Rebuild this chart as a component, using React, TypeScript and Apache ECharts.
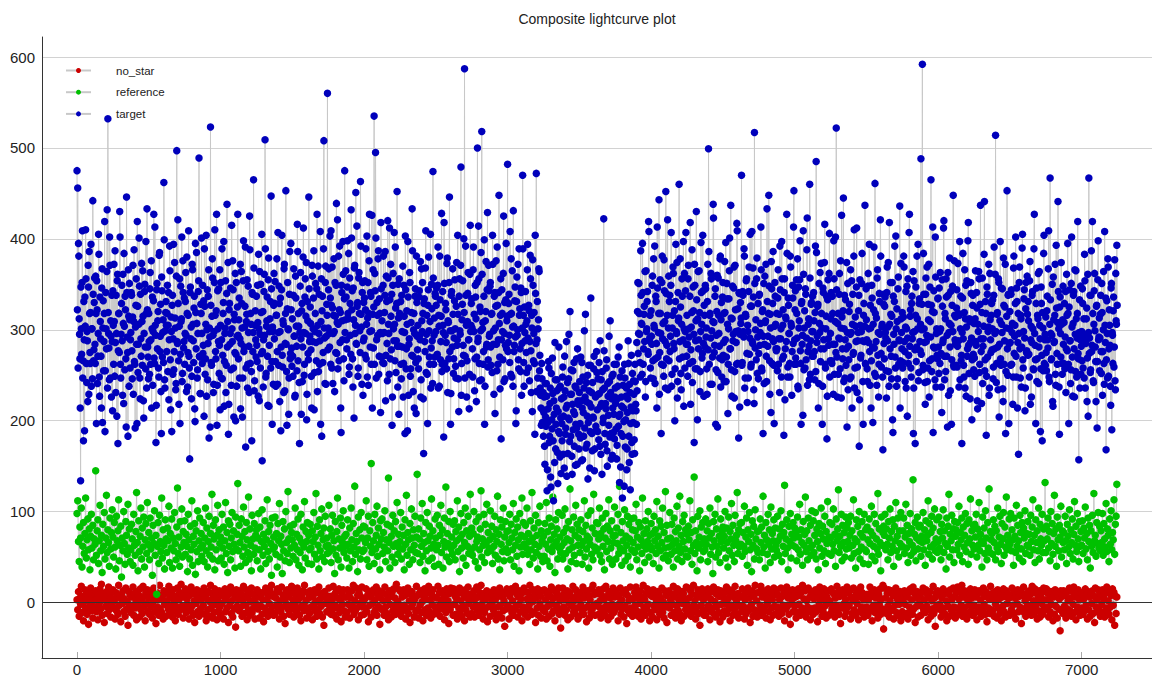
import React, { useEffect, useRef } from "react";
import * as echarts from "echarts";

const STEP = 5;
const xTickValues = [0, 1000, 2000, 3000, 4000, 5000, 6000, 7000];
const yTickValues = [0, 100, 200, 300, 400, 500, 600];
const gridValues = [100, 200, 300, 400, 500, 600];
const seriesNames = ["no_star", "reference", "target"];

const noStar: number[] = [
3,-8,12,-15,5,-2,18,-11,7,-20,1,14,-6,9,-13,4,-24,10,-3,16,-9,6,-17,2,11,
-5,13,-10,4,-19,8,-1,15,-7,20,-14,3,10,-22,6,-4,12,-12,1,17,-8,9,-16,5,-2,
14,-6,2,-18,11,-9,7,-13,19,-3,5,-21,9,-1,13,-10,4,-15,16,-7,1,-25,12,-4,8,
-11,6,-3,17,-14,10,-6,3,-19,12,-2,8,-16,15,-8,2,-12,18,-5,7,-20,11,-1,14,-9,
5,-13,9,-4,13,-17,1,16,-10,6,-23,11,-5,3,-14,19,-7,8,-11,4,-18,13,-2,10,-15,
2,12,-7,18,-12,5,-3,10,-16,14,-9,1,-20,7,-5,16,-13,3,11,-8,20,-4,6,-17,9,
-6,15,-11,4,-2,13,-18,8,-9,17,-4,11,-14,2,-22,9,-1,14,-10,6,-15,12,-7,3,-12,
10,-3,16,-13,7,-20,4,-8,12,-15,1,19,-6,10,-17,5,-11,15,-2,8,-19,3,-9,13,-5,
-14,8,-1,11,-18,6,15,-10,3,-6,13,-22,9,-3,17,-12,2,-16,11,-7,5,-27,14,-4,7,
4,-9,13,-5,9,-15,2,18,-12,7,-3,14,-19,5,-8,12,-14,1,16,-11,9,-6,3,-18,10,
-2,14,-7,6,-17,11,-4,9,-13,3,-21,12,-6,16,-9,4,-15,8,-1,13,-10,19,-5,7,-14,
9,-12,5,-3,15,-8,12,-18,2,-10,17,-5,8,-15,3,-23,11,-2,14,-7,6,-13,10,-4,18,
-7,3,-16,12,-1,8,-11,16,-6,4,-14,10,-20,7,-3,13,-9,19,-5,2,-17,11,-8,5,-12,
13,-5,9,-19,6,-2,14,-9,1,-15,11,-7,17,-12,4,-4,10,-16,7,-25,12,-1,8,-10,3,
-10,16,-4,7,-13,2,-8,18,-14,9,-3,12,-18,5,-6,15,-11,3,-21,10,-2,14,-9,6,-16,
6,-11,14,-2,10,-17,5,-7,13,-4,19,-13,2,-9,16,-6,8,-19,11,-1,7,-14,17,-5,1,
-13,4,-6,15,-10,8,-21,12,-3,6,-16,10,-1,14,-11,3,-8,17,-14,9,-4,13,-24,5,-7,
11,-8,2,-14,17,-5,9,-12,4,-19,13,-2,7,-16,11,-9,15,-3,5,-13,20,-7,1,-11,14,
-4,12,-15,6,-9,14,-3,8,-18,10,-6,16,-12,2,-22,9,-5,12,-1,7,-16,4,-10,18,-8,
8,-17,10,-3,13,-11,1,-20,7,15,-8,4,-14,11,-6,18,-10,3,-17,9,-2,14,-13,6,-5,
-9,5,-12,18,-4,11,-15,3,-7,13,-1,9,-19,6,-11,15,-5,2,-23,10,-8,16,-3,12,-14,
15,-2,7,-13,4,-18,10,-6,16,-10,2,-15,12,-4,8,-20,14,-8,5,-12,17,-1,9,-16,3,
-12,9,-5,13,-16,4,-3,17,-9,6,-14,11,-7,19,-2,5,-18,10,-11,3,-6,13,-21,8,-4,
5,-15,11,-1,9,-8,14,-12,3,-19,10,-5,7,-13,16,-3,11,-17,6,-9,2,-26,12,-7,15,
-3,10,-18,7,-6,15,-11,2,-14,12,-8,18,-4,9,-16,6,-2,13,-10,4,-20,11,-5,16,-13,
12,-7,4,-16,11,-3,19,-9,6,-13,1,14,-11,8,-22,5,-6,15,-14,10,-1,7,-17,13,-8,
-6,14,-10,3,-18,9,-4,12,-15,7,-2,17,-12,4,-9,13,-20,6,-3,11,-7,16,-13,2,-28,
7,-11,16,-5,10,-14,3,-8,13,-19,9,-1,11,-16,6,-4,18,-10,2,-12,14,-6,8,-18,4,
-15,6,-2,12,-9,17,-13,5,-6,10,-21,13,-4,8,-17,3,-11,15,-7,19,-3,9,-14,11,-1,
10,-4,14,-12,2,-17,8,-6,15,-10,4,-14,18,-3,7,-19,12,-8,5,-15,11,-2,16,-11,6,
-8,13,-5,9,-20,6,-1,16,-13,3,-7,12,-16,10,-4,14,-23,8,-9,2,-12,17,-6,4,-15,
4,-12,11,-3,17,-9,5,-15,8,-1,13,-18,6,-10,19,-5,3,-14,10,-7,15,-2,9,-20,12,
-11,7,-16,14,-4,10,-8,3,-19,12,-2,9,-13,5,-6,16,-11,1,-17,13,-5,8,-22,11,-3,
13,-6,3,-14,9,-2,18,-11,6,-17,11,-4,15,-9,2,-13,7,-20,12,-1,10,-15,4,-8,17,
-2,16,-12,5,-8,13,-15,9,-4,19,-10,2,-18,8,-5,14,-12,6,-25,10,-3,15,-9,3,-14,
9,-14,6,-7,15,-3,11,-19,4,-10,12,-6,17,-13,1,-16,9,-4,14,-11,7,-21,13,-2,8,
-16,5,-9,11,-1,17,-12,4,-7,14,-20,8,-3,12,-14,6,-8,18,-5,2,-13,10,-17,7,-4,
6,-10,15,-4,8,-18,3,-13,12,-6,16,-9,5,-22,10,-2,13,-15,7,-8,19,-11,2,-16,11,
-9,12,-3,18,-14,6,-11,10,-5,13,-17,4,-1,15,-10,8,-19,11,-6,3,-14,16,-4,9,-12,
14,-5,8,-15,3,-9,16,-12,7,-3,11,-20,9,-7,17,-4,5,-13,12,-24,8,-1,14,-10,5,
-4,10,-17,7,-11,15,-2,8,-14,11,-6,19,-12,4,-8,13,-16,2,-5,16,-10,6,-19,12,-7,
8,-13,4,-6,14,-10,12,-21,5,-2,17,-8,10,-15,3,-11,15,-4,9,-17,6,-1,13,-14,2,
-12,15,-7,11,-3,9,-16,5,-9,18,-4,12,-13,7,-23,10,-6,14,-2,8,-15,3,-10,17,-5,
11,-3,13,-18,6,-12,2,16,-8,4,-14,10,-1,13,-19,6,-10,17,-5,11,-12,3,-16,8,-7,
-5,9,-14,3,-10,17,-6,11,-20,7,-3,14,-11,5,-8,12,-17,9,-2,15,-13,4,-7,19,-29,
16,-8,5,-12,10,-4,14,-16,2,-9,13,-6,8,-18,11,-3,16,-11,4,-14,7,-2,12,-20,9,
-10,4,-15,13,-2,9,-12,6,-18,11,-5,15,-9,3,-13,17,-7,10,-22,5,-4,12,-16,8,-1,
7,-14,11,-5,16,-9,3,-11,14,-4,9,-19,6,-8,12,-15,2,-7,18,-12,5,-26,10,-3,13,
-7,12,-2,8,-16,5,-10,15,-6,10,-13,2,-20,12,-4,9,-15,14,-8,3,-11,16,-5,7,-17,
12,-6,17,-13,4,-8,11,-3,19,-15,6,-10,13,-5,8,-18,3,-12,10,-2,15,-9,5,-14,11,
-3,14,-11,6,-19,10,-5,13,-9,3,-15,11,-7,16,-2,7,-13,12,-21,9,-6,4,-12,18,-8,
10,-9,3,-15,12,-2,8,-17,14,-6,4,-12,11,-20,6,-4,15,-10,7,-16,13,-1,9,-13,5,
-14,6,-8,16,-3,11,-12,5,-18,9,-1,14,-10,7,-5,12,-23,8,-7,17,-11,2,-15,10,-4,
5,-11,13,-4,9,-14,18,-7,2,-12,15,-3,10,-18,4,-9,13,-16,6,-1,11,-13,16,-6,3,
-8,15,-5,10,-16,3,-10,12,-2,8,-20,6,-13,14,-4,11,-17,9,-7,4,-31,13,-9,7,-12,
13,-4,8,-17,11,-7,2,-13,16,-9,5,-15,12,-2,17,-11,6,-19,9,-5,14,-10,3,-14,10,
-6,11,-13,4,-9,15,-3,9,-18,12,-8,6,-15,10,-1,13,-12,7,-22,16,-5,3,-10,14,-7,
9,-15,6,-2,14,-11,4,-16,10,-6,17,-9,2,-13,12,-5,8,-19,15,-3,11,-25,7,-12,6
];

const reference: number[] = [
98,112,67,45,83,71,104,39,62,88,54,76,115,49,69,92,58,81,36,73,97,60,85,47,70,
64,145,52,79,91,43,68,107,57,74,33,86,62,99,48,71,118,55,80,66,40,93,59,77,102,
72,50,88,61,37,95,68,79,113,46,63,84,28,71,57,100,65,42,89,74,53,108,60,81,45,
58,86,70,41,97,63,52,78,121,66,35,90,56,73,104,48,82,61,94,39,69,87,54,110,64,
77,47,93,59,71,30,85,65,101,52,74,9,62,88,43,96,67,56,115,49,80,63,37,91,70,
55,82,68,106,44,76,60,92,38,71,57,99,65,47,83,126,54,72,40,89,61,103,50,78,66,
90,53,75,62,34,97,69,48,84,58,112,41,73,64,87,31,79,56,101,45,68,93,60,76,51,
63,88,45,71,104,57,82,39,67,95,52,76,61,119,48,85,70,36,91,58,74,107,46,80,65,
72,49,97,60,83,42,68,110,54,77,33,90,62,86,47,71,99,56,79,64,38,94,59,75,131,
57,85,66,40,92,73,51,105,61,78,44,88,69,55,116,48,81,63,35,96,70,53,87,60,74,
80,46,71,98,58,83,37,67,102,52,75,62,90,43,69,113,56,78,48,85,65,30,93,59,72,
61,94,53,76,39,87,68,109,50,73,64,32,89,57,81,46,100,66,54,122,70,44,84,60,77,
69,51,86,63,104,47,75,58,92,41,71,55,97,66,36,83,61,111,49,78,67,88,43,74,58,
86,60,42,79,67,99,53,72,120,48,84,63,37,91,57,76,103,50,69,82,45,95,62,71,54,
63,107,56,81,44,74,96,59,68,32,89,52,78,115,47,70,60,93,39,85,66,101,55,73,62,
75,49,91,64,38,82,57,104,69,45,87,61,128,53,76,67,34,94,58,80,48,99,71,56,84,
58,83,66,112,47,71,95,40,79,62,153,55,88,68,43,97,59,74,106,51,82,64,36,90,70,
92,54,77,61,101,45,69,86,57,137,66,38,84,73,50,96,62,79,44,89,65,110,53,75,60,
67,99,48,83,59,74,36,91,64,118,52,77,69,42,87,58,103,71,47,80,63,95,55,72,141,
54,81,70,44,93,62,109,51,76,66,35,88,57,99,68,46,84,73,60,114,49,79,64,40,92,
71,58,96,63,42,85,74,107,55,80,38,67,93,61,127,50,76,65,89,45,100,59,72,53,86,
63,90,47,78,68,112,56,83,34,71,98,60,75,49,88,66,104,41,79,62,95,54,73,119,57,
82,52,76,100,61,45,89,67,72,38,94,58,81,123,50,70,63,97,44,86,65,108,55,77,60,
69,101,57,84,43,73,62,95,52,80,67,117,48,75,36,91,64,83,56,104,46,72,89,59,78,
55,79,66,97,47,86,71,58,109,40,77,63,92,51,83,69,35,98,61,74,115,53,88,64,72,
85,60,104,53,76,67,42,90,58,121,71,49,82,64,96,55,74,37,88,62,106,51,79,68,45,
73,51,87,64,110,46,78,59,93,40,69,84,56,116,62,75,33,91,67,81,48,99,60,72,55,
62,96,48,77,66,103,54,82,70,37,89,58,125,68,45,80,61,94,52,74,107,43,86,63,71,
80,55,91,63,42,78,67,112,50,85,59,73,96,38,70,64,101,53,82,47,119,61,76,57,88,
59,87,70,104,52,76,45,93,62,81,36,71,98,56,84,67,113,48,79,60,90,42,73,66,105,
74,48,82,65,97,54,128,60,77,41,89,68,57,102,46,73,63,95,51,86,70,39,92,58,80,
66,93,55,79,108,47,72,61,88,35,83,69,54,115,63,76,44,90,59,81,67,100,50,74,62,
87,58,76,43,95,68,80,54,111,62,73,38,90,57,84,66,104,49,77,60,122,52,85,70,46,
61,99,71,53,86,64,39,93,57,78,68,106,48,82,62,117,55,74,45,89,67,96,59,80,51,
75,50,84,69,112,57,77,42,91,63,138,54,79,66,35,95,60,72,101,47,83,65,88,56,70,
58,92,64,79,45,87,71,104,53,76,61,32,89,68,97,50,81,62,114,55,73,44,92,67,78,
83,60,73,100,49,82,66,39,94,57,78,70,109,52,85,63,45,96,68,74,121,54,80,61,87,
64,88,51,77,62,106,56,72,93,41,80,67,99,58,75,34,90,63,84,48,102,70,59,78,55,
79,47,92,66,83,55,117,61,74,38,88,69,53,97,64,80,44,105,59,76,68,91,50,82,63,
57,95,68,52,81,73,101,45,86,62,77,129,54,70,91,60,36,84,67,98,49,75,63,88,71,
82,61,77,46,94,58,72,108,53,80,66,41,89,63,75,116,56,79,47,93,68,60,85,52,101,
63,90,55,74,99,48,81,67,36,87,60,76,104,51,84,70,57,95,43,78,65,111,54,72,88,
71,52,86,64,103,57,75,40,92,68,81,124,55,73,62,97,46,85,66,77,50,94,59,82,67,
88,60,74,95,49,79,63,113,54,70,38,91,67,84,56,100,48,76,61,89,72,43,97,58,80,
56,83,69,42,92,65,78,106,51,74,62,97,46,87,70,59,120,53,81,66,35,94,63,77,84,
74,97,58,81,64,47,89,71,103,55,78,62,91,40,84,68,110,57,73,93,50,79,65,99,61,
62,79,93,54,72,108,60,85,44,76,67,98,52,81,63,135,56,75,88,46,71,94,59,83,68,
85,51,73,66,99,58,80,41,90,68,74,112,53,87,61,77,95,48,82,64,103,57,70,91,55,
67,94,60,78,47,86,71,102,55,79,65,37,93,62,84,119,50,75,68,96,58,81,44,89,73,
80,58,88,64,106,52,77,69,93,45,83,61,74,98,56,87,66,42,91,70,114,53,79,63,85,
59,86,72,97,50,81,63,110,57,75,68,39,94,65,82,54,101,71,47,88,60,125,55,78,69,
76,53,91,66,84,47,79,60,104,56,72,95,64,43,87,70,99,52,83,61,116,58,74,67,92,
64,98,57,80,69,41,93,73,55,107,62,85,68,49,96,77,59,88,45,82,71,101,54,76,63,
89,61,75,52,96,67,83,113,58,74,44,91,66,79,57,104,48,86,70,63,97,55,81,68,132,
55,84,70,93,60,78,46,100,65,87,53,76,118,62,81,40,94,69,57,85,72,106,50,79,66,
77,58,95,68,43,86,73,61,102,54,80,66,92,48,75,111,63,84,56,98,70,45,89,62,78,
63,90,54,82,71,105,59,76,47,93,67,85,38,79,62,96,55,120,68,74,51,88,65,99,60,
84,57,79,66,98,52,87,70,61,109,56,81,74,45,92,64,101,58,77,69,113,53,86,95,130
];

// target samples at x = 0, 5, 10, ...
const target: number[] = [
475,456,395,312,268,134,301,352,247,178,289,336,410,263,298,221,347,386,275,319,238,301,442,266,330,
284,359,197,322,271,405,248,336,290,214,367,302,255,318,188,341,279,432,532,296,245,371,310,226,287,
343,262,309,387,231,296,354,175,318,275,402,247,329,288,361,219,304,337,268,446,292,183,315,351,258,
297,338,246,371,309,265,192,327,284,419,253,306,348,224,290,373,261,315,203,342,281,397,236,322,270,
318,251,363,289,214,336,298,427,263,305,176,344,279,320,248,385,293,232,358,270,311,462,245,299,331,
276,349,305,223,392,267,314,188,338,290,256,374,302,241,497,285,329,218,356,273,309,402,252,341,287,
262,331,294,380,237,316,271,158,347,303,249,366,288,324,213,395,279,307,256,342,489,270,230,318,296,
349,283,205,326,268,404,300,245,337,181,292,523,264,315,357,231,298,410,276,321,195,343,287,252,366,
305,247,389,272,330,216,296,354,261,438,309,185,322,284,346,239,301,376,258,317,275,200,352,293,427,
268,335,290,213,364,302,247,398,281,326,171,309,355,262,297,231,388,318,254,341,276,465,233,305,289,
337,265,308,383,222,295,350,274,156,320,289,361,509,248,304,336,217,379,283,312,258,345,196,298,327,
290,353,238,316,276,407,261,329,298,189,344,272,310,231,372,285,453,254,323,301,207,339,268,395,280,
312,249,367,293,228,335,282,416,266,304,175,348,290,321,243,380,297,262,356,315,201,331,274,446,287,
325,278,214,359,301,387,253,318,286,345,232,370,296,262,408,309,183,337,275,508,291,352,240,328,560,
302,367,281,335,409,258,324,296,378,232,315,349,274,421,306,266,392,319,187,341,289,361,244,475,311,
336,279,398,312,251,357,294,432,322,268,346,203,371,305,285,414,330,258,363,299,463,317,240,352,288,
291,354,322,268,403,313,239,376,298,341,262,426,317,280,535,362,495,247,330,294,387,271,318,209,345,
310,264,381,297,338,222,359,285,420,306,251,333,372,278,195,349,301,407,266,324,288,452,237,313,356,
282,331,246,298,370,263,315,186,344,279,306,397,228,290,352,257,319,433,271,300,214,337,264,381,293,
305,257,343,289,226,367,298,318,164,334,276,409,295,251,327,380,270,309,236,350,288,474,262,313,340,
298,346,273,391,316,238,333,287,428,262,305,182,351,294,322,257,379,310,268,446,299,230,342,281,317,
268,332,301,247,374,289,317,210,356,295,479,263,328,283,400,587,271,338,226,309,363,289,251,415,305,
334,279,366,298,233,349,312,270,500,291,356,244,320,385,518,301,262,337,196,310,375,284,429,267,343,
295,352,261,318,404,284,229,341,302,376,255,327,289,448,270,316,180,344,298,362,243,330,283,395,310,
482,286,339,264,317,378,248,303,431,276,332,292,211,358,300,267,389,323,254,341,285,470,316,238,297,
342,275,310,394,258,321,287,356,231,302,377,266,319,185,340,472,289,247,311,364,272,228,195,246,212,
183,226,152,204,241,123,198,265,176,219,138,252,191,230,112,207,286,169,214,245,131,188,236,160,203,
224,178,259,205,148,233,192,287,217,164,246,201,320,183,229,141,255,210,172,238,196,268,152,222,185,
231,197,270,156,214,248,183,299,226,170,242,205,136,261,219,188,335,231,167,204,257,145,228,194,276,
212,246,179,230,288,163,219,254,198,422,236,174,213,267,150,227,195,243,310,186,224,162,251,207,180,
236,191,158,224,270,205,132,248,186,216,115,239,199,262,171,227,146,209,288,183,240,124,215,176,252,
198,229,164,243,211,286,320,274,351,295,248,338,306,395,262,317,287,226,365,301,342,273,408,291,258,
321,284,359,246,305,392,268,331,214,346,297,443,275,318,186,352,290,261,377,309,236,340,283,421,302,
266,338,293,407,251,316,362,279,200,331,298,374,243,310,460,287,325,234,356,270,397,301,258,343,284,
316,249,371,292,337,218,303,388,265,321,176,349,288,430,257,312,279,365,232,298,341,269,404,285,327,
281,345,302,229,372,499,262,318,291,356,240,309,423,275,337,196,294,360,253,316,282,378,237,330,267,
352,286,243,319,396,270,334,208,301,365,279,437,256,312,288,346,225,371,298,262,409,323,181,340,295,
307,470,264,338,292,381,247,315,356,220,298,342,273,405,259,326,287,368,234,517,280,311,356,252,329,
274,339,297,413,258,320,186,351,284,308,372,243,331,293,448,266,317,209,345,290,386,261,304,337,279,
318,255,366,290,231,344,301,397,268,322,184,356,279,312,427,248,335,296,263,381,307,228,349,285,453,
289,343,262,318,378,235,302,355,277,196,331,294,409,256,321,345,267,388,239,306,282,460,251,328,298,
337,271,310,245,392,485,286,326,214,351,297,265,373,302,238,341,279,416,258,315,180,333,290,362,248,
296,341,263,318,229,356,284,402,522,270,307,251,339,290,376,225,314,268,445,301,247,333,279,193,351,
282,320,246,366,297,214,339,275,410,258,304,347,231,288,321,172,355,269,298,384,243,316,287,437,262,
311,257,348,286,394,239,302,266,335,198,322,280,461,249,313,357,272,226,340,295,381,259,306,168,328,
268,336,291,225,369,303,254,418,279,317,246,352,187,295,331,270,403,238,309,345,262,288,214,373,297,
319,264,381,287,243,342,301,205,356,272,427,315,258,329,290,364,236,298,175,347,281,312,394,253,334,
277,488,300,592,261,339,286,218,357,294,243,328,372,266,309,465,254,320,187,343,280,402,237,301,268,
335,252,298,363,274,209,326,289,420,245,312,356,271,193,338,297,379,233,305,267,348,448,259,316,284,
261,344,282,318,237,397,301,266,175,335,290,248,366,312,227,354,279,418,252,309,286,340,201,327,273,
307,249,365,283,324,213,298,356,262,437,276,319,241,290,383,255,331,184,347,270,303,228,362,289,316,
278,333,259,391,296,514,242,317,281,356,204,310,268,346,297,235,379,262,325,186,302,453,250,339,285,
320,261,344,297,218,368,274,305,402,248,331,286,163,352,279,316,237,390,267,298,344,211,323,275,359,
272,310,248,375,289,226,338,301,256,427,283,197,346,268,312,241,364,290,257,329,178,302,384,263,295,
314,255,337,280,409,243,467,296,268,350,216,311,287,372,239,324,262,441,301,185,336,270,306,251,348,
263,329,292,231,361,277,318,197,344,288,256,402,270,307,342,226,295,365,248,318,274,157,333,289,251,
298,345,258,312,383,236,287,324,269,205,467,291,253,338,276,419,244,306,362,281,221,327,265,398,292,
255,317,276,351,228,300,263,408,286,168,332,247,369,279,305,238,346,190,294,321,259,377,234,310,393
];

// target samples in between, at x = 2.5, 7.5, 12.5, ...
const targetMid: number[] = [
322,258,381,295,214,347,273,409,266,331,189,304,356,242,288,371,229,318,263,394,301,246,339,278,357,
263,318,354,241,296,383,227,309,271,346,198,332,287,419,255,301,364,236,319,280,402,247,293,338,211,
305,372,249,286,338,205,361,277,318,430,262,295,349,228,307,384,256,322,193,341,275,366,238,311,289,
341,277,314,229,388,262,303,356,197,326,284,401,247,339,271,309,365,222,296,350,257,318,433,281,246,
287,345,262,376,301,239,332,269,413,294,217,351,310,258,382,276,328,186,343,297,264,399,236,319,305,
318,254,341,289,365,212,298,327,251,394,276,313,234,359,287,421,266,304,197,348,312,243,376,280,335,
296,363,232,318,275,409,258,341,290,224,372,306,264,337,199,319,385,247,296,354,271,230,328,401,263,
274,332,389,251,306,227,344,285,366,302,193,327,261,378,294,240,352,316,268,427,239,301,345,283,212,
352,289,246,318,397,265,302,231,340,281,374,218,329,296,256,415,287,344,204,311,362,273,238,325,294,
311,247,372,285,329,204,354,276,303,391,258,317,236,348,282,425,263,306,178,339,297,368,244,321,270,
283,349,227,301,364,258,319,405,276,237,342,294,389,252,310,271,355,216,298,331,447,265,303,240,362,
329,265,316,378,240,297,348,221,335,281,404,259,306,367,233,318,284,195,352,300,247,386,274,322,260,
271,338,293,226,359,304,255,386,318,242,297,363,207,329,281,412,250,336,296,374,229,310,267,345,293,
307,249,371,287,335,212,298,351,266,427,305,254,339,288,196,356,321,264,389,302,241,370,293,316,278,
344,296,403,262,327,369,241,316,298,352,275,439,308,257,381,322,286,214,349,310,397,268,334,297,365,
289,347,318,384,259,329,273,401,343,237,311,368,296,451,284,326,249,357,318,275,392,303,341,228,330,
335,272,389,306,248,352,318,427,281,337,299,214,366,325,262,343,401,289,316,378,251,334,297,418,270,
296,349,263,319,386,272,331,244,357,296,412,268,315,339,226,362,288,306,391,253,329,282,350,207,318,
315,262,338,281,226,349,297,403,257,321,189,336,284,363,249,308,272,387,232,318,296,345,208,330,278,
268,336,294,375,245,310,352,224,329,287,368,253,316,197,344,299,262,405,280,323,241,357,294,270,337,
327,271,349,236,304,381,267,315,254,342,297,418,263,329,286,373,231,308,352,276,196,338,299,367,252,
291,355,260,326,283,404,246,337,299,371,228,311,354,272,319,247,392,305,266,340,289,213,361,298,329,
302,248,391,317,268,336,221,352,287,414,263,325,299,245,361,308,276,399,238,320,281,344,259,371,293,
348,281,317,253,372,299,337,208,326,284,391,262,341,307,235,356,289,318,267,425,296,246,333,279,315,
276,329,294,408,251,318,365,238,304,283,347,197,331,294,372,257,316,279,346,228,302,389,264,325,288,
306,253,366,291,327,244,382,277,316,210,349,296,263,404,285,232,331,301,367,255,236,214,263,198,231,
209,172,241,194,227,146,213,258,183,236,127,201,269,178,222,154,245,196,233,165,210,281,186,238,142,
197,248,163,226,271,185,214,139,242,203,295,177,229,256,161,218,190,264,207,151,236,192,279,218,169,
243,181,222,264,157,209,236,192,317,221,174,250,198,233,148,261,215,186,242,203,271,169,226,189,253,
188,229,264,172,216,245,141,234,203,277,186,219,258,167,241,206,293,182,231,158,249,214,187,262,226,
219,262,173,238,194,281,207,149,226,255,183,214,128,247,201,236,169,224,263,154,231,197,272,163,211,
244,179,262,218,196,233,352,296,318,264,387,307,251,341,279,326,364,243,298,331,276,419,288,316,247,
293,349,266,378,302,241,337,285,413,270,318,229,355,296,262,381,307,249,343,287,452,268,316,234,359,
331,276,349,238,302,369,285,321,257,394,296,225,341,313,268,378,252,306,337,289,216,362,298,407,271,
284,356,301,263,418,278,319,242,347,295,372,257,310,333,201,364,289,319,254,396,306,274,343,227,316,
349,292,257,331,278,386,316,240,362,299,270,438,308,283,345,256,320,193,357,296,269,381,311,248,336,
272,318,375,289,243,351,306,262,334,401,279,313,227,348,295,369,254,322,286,417,263,299,341,215,330,
313,261,342,298,389,236,317,354,274,305,247,369,291,326,262,408,285,336,219,351,300,267,379,292,246,
338,283,307,366,255,322,293,241,359,310,271,433,282,318,348,229,302,375,263,329,287,197,352,306,277,
279,335,262,317,392,290,248,356,305,271,341,223,314,287,384,259,327,296,248,369,304,276,335,413,262,
322,269,355,291,238,347,310,398,263,329,284,206,361,302,258,339,291,423,276,312,245,357,288,330,271,
298,341,276,319,254,385,293,328,241,307,363,279,318,196,346,289,374,262,301,337,227,355,283,406,266,
312,266,337,284,398,251,309,275,344,226,318,291,362,257,302,426,279,321,243,338,289,261,374,297,234,
267,328,295,248,354,306,273,381,236,314,287,412,259,297,338,223,305,272,351,288,196,329,304,263,345,
289,243,362,301,276,327,214,349,281,306,391,252,318,287,239,366,297,262,331,421,274,303,248,339,285,
326,297,255,341,288,374,238,306,352,271,315,201,337,284,392,258,301,323,246,358,289,436,266,312,279,
258,314,369,276,303,236,348,291,263,407,282,322,248,337,297,186,354,278,316,265,381,301,244,329,287,
306,273,328,256,384,301,242,339,287,369,258,311,226,347,292,327,268,413,281,319,245,358,296,272,334,
281,346,263,301,237,355,286,412,271,318,254,336,294,363,228,307,281,342,196,327,298,261,376,289,314,
324,259,373,288,316,245,337,272,297,384,261,319,236,349,303,271,398,283,312,224,352,291,267,338,256,
269,312,287,341,222,306,364,253,328,290,219,357,282,304,441,267,318,249,339,298,372,236,311,275,329,
301,246,338,279,361,298,263,319,234,352,284,397,261,306,345,221,327,288,372,254,315,279,338,197,301,
286,339,262,307,248,381,293,329,271,346,214,318,296,369,247,312,281,405,258,334,291,236,352,277,317,
331,273,354,218,304,286,342,257,389,296,267,329,243,316,362,281,305,188,347,272,319,255,404,289,261,
275,321,289,367,248,306,333,267,294,221,358,286,316,251,393,274,308,342,237,325,296,374,263,311,284,
308,257,342,279,316,395,262,325,288,241,351,303,227,338,279,366,254,312,291,419,268,297,236,348,282,
266,329,293,247,354,285,312,221,361,297,274,338,256,387,283,318,242,343,299,265,326,192,355,289,313,
291,338,252,319,276,364,240,305,335,267,296,378,249,322,283,217,351,297,263,336,281,244,362,306,327
];

const FONT = "'Liberation Sans', Arial, Helvetica, sans-serif";
const COLORS = ["#cc0000", "#00c000", "#0000bb"];
const LINE_GRAY = "#c8c8c8";

const toPoints = (vals: number[]) => vals.map((v, i) => [i * STEP, v]);
const toInterleaved = (vals: number[], mids: number[]) => {
  const pts: number[][] = [];
  vals.forEach((v, i) => {
    pts.push([i * STEP, v]);
    if (i < mids.length) pts.push([i * STEP + STEP / 2, mids[i]]);
  });
  return pts;
};

export default function App() {
  const ref = useRef<HTMLDivElement>(null);

  useEffect(() => {
    document.body.style.margin = "0";
    if (!ref.current) return;
    const chart = echarts.init(ref.current, null, { renderer: "svg" });

    const datasets = [toPoints(noStar), toPoints(reference), toInterleaved(target, targetMid)];
    const series: any[] = datasets.map((pts, i) => ({
      name: seriesNames[i],
      type: "line",
      data: pts,
      symbol: "circle",
      symbolSize: 7.5,
      showSymbol: true,
      showAllSymbol: true,
      itemStyle: { color: COLORS[i] },
      lineStyle: { color: LINE_GRAY, width: 1 },
      emphasis: { disabled: true },
      silent: true,
      z: 2 + i,
    }));

    series[0].markLine = {
      silent: true,
      z: 0,
      symbol: ["none", "none"],
      label: { show: false },
      lineStyle: { color: "#d2d2d2", width: 1, type: "solid" },
      emphasis: { disabled: true },
      data: gridValues.map((v) => ({ yAxis: v })),
    };
    series[0].z = 1;
    series[2].markLine = {
      silent: true,
      z: 10,
      symbol: ["none", "none"],
      label: { show: false },
      lineStyle: { color: "#333333", width: 1, type: "solid" },
      emphasis: { disabled: true },
      data: [{ yAxis: 0 }],
    };

    chart.setOption({
      animation: false,
      textStyle: { fontFamily: FONT },
      grid: { left: 42, right: 0, top: 37, bottom: 25, containLabel: false },
      graphic: [
        {
          type: "text",
          x: 597,
          y: 19,
          style: {
            text: "Composite lightcurve plot",
            fontSize: 14,
            fontFamily: FONT,
            fill: "#222222",
            textAlign: "center",
            textVerticalAlign: "middle",
          },
        },
      ],
      legend: {
        orient: "vertical",
        left: 60,
        top: 59.5,
        itemWidth: 25,
        itemHeight: 6.25,
        itemGap: 9.7,
        selectedMode: false,
        textStyle: {
          fontSize: 11.5,
          color: "#222222",
          fontFamily: FONT,
          padding: [0, 0, 0, 20],
        },
        data: seriesNames,
      },
      xAxis: {
        type: "value",
        min: -244,
        max: 7490,
        splitLine: { show: false },
        axisLine: { show: true, onZero: false, lineStyle: { color: "#333333", width: 1 } },
        axisTick: {
          show: true,
          inside: true,
          length: 6,
          customValues: xTickValues,
          lineStyle: { color: "#aaaaaa", width: 1 },
        },
        axisLabel: {
          customValues: xTickValues,
          formatter: (v: number) => String(v),
          fontSize: 15,
          color: "#222222",
          margin: 4,
          fontFamily: FONT,
        },
      },
      yAxis: {
        type: "value",
        min: -61,
        max: 622,
        splitLine: { show: false },
        axisLine: { show: true, onZero: false, lineStyle: { color: "#333333", width: 1 } },
        axisTick: { show: false },
        axisLabel: {
          customValues: yTickValues,
          formatter: (v: number) => String(v),
          fontSize: 15,
          color: "#222222",
          margin: 7,
          fontFamily: FONT,
        },
      },
      series,
    });

    return () => chart.dispose();
  }, []);

  return <div ref={ref} style={{ width: 1152, height: 683 }} />;
}
